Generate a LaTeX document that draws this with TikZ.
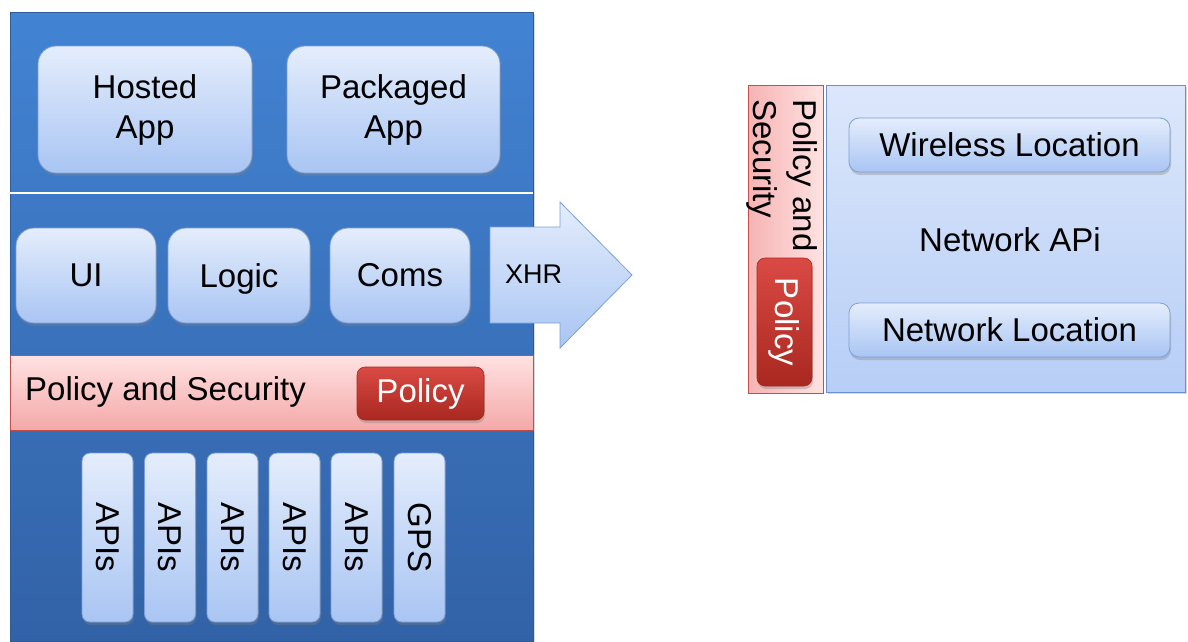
\documentclass[tikz,border=0pt]{standalone}
\usepackage{fontspec}
\setmainfont{Liberation Sans}
\usetikzlibrary{shadows}
\definecolor{panelTop}{HTML}{4283D3}
\definecolor{panelBot}{HTML}{3262A6}
\definecolor{panelLine}{HTML}{2F5B98}
\definecolor{lbtop}{HTML}{E4EDFC}
\definecolor{lbbot}{HTML}{A9C5F3}
\definecolor{boxline}{HTML}{7E9FD6}
\definecolor{pinktop}{HTML}{FFE2E2}
\definecolor{pinkbot}{HTML}{F4A8A8}
\definecolor{pinkline}{HTML}{C0504D}
\definecolor{redtop}{HTML}{DA4A44}
\definecolor{redbot}{HTML}{A8281F}
\definecolor{rpanelTop}{HTML}{DCE7FB}
\definecolor{rpanelBot}{HTML}{B7CEF6}
\definecolor{rpanelLine}{HTML}{6F8FCB}
\begin{document}
\begin{tikzpicture}[x=1pt,y=-1pt,
  txt/.style={font=\fontsize{33}{40}\selectfont, text=black},
  lbox/.style={txt, draw=boxline, line width=0.8pt, top color=lbtop, bottom color=lbbot,
     rounded corners=18pt, align=center, inner sep=0pt,
     drop shadow={opacity=0.35, shadow xshift=1pt, shadow yshift=-3pt}},
  apistrip/.style={lbox, rotate=-90, minimum width=169pt, minimum height=51pt, rounded corners=8pt},
  redbtn/.style={font=\fontsize{33}{40}\selectfont, text=white, draw=redbot, line width=0.6pt,
     top color=redtop, bottom color=redbot, rounded corners=8pt, inner sep=0pt,
     drop shadow={opacity=0.35, shadow xshift=1pt, shadow yshift=-3pt}},
  pinkbar/.style={draw=pinkline, line width=1pt, top color=pinktop, bottom color=pinkbot}
]
\useasboundingbox (0,0) rectangle (1188,641);
% main panel
\path[draw=panelLine, line width=1pt, top color=panelTop, bottom color=panelBot,
  drop shadow={opacity=0.3, shadow xshift=2pt, shadow yshift=-2pt}]
  (10,12) rectangle (533,641);
\draw[white, line width=1.5pt] (10,193) -- (533,193);
% top apps
\node[lbox, minimum width=214pt, minimum height=127pt] (hosted) at (145,109.5) {Hosted\\App};
\node[lbox, minimum width=213pt, minimum height=127pt] (packaged) at (393.5,109.5) {Packaged\\App};
% middle row
\node[lbox, minimum width=140pt, minimum height=95pt] (ui) at (86,275.5) {UI};
\node[lbox, minimum width=142pt, minimum height=95pt, text depth=0pt] (logic) at (239,275.5) {Logic};
\node[lbox, minimum width=140pt, minimum height=95pt] (coms) at (400,275.5) {Coms};
% XHR arrow
\path[draw=boxline, line width=0.8pt, top color=lbtop, bottom color=lbbot]
  (490,227) -- (560,227) -- (560,202) -- (632,275) -- (560,348) -- (560,323) -- (490,323) -- cycle;
\node[font=\fontsize{27}{32}\selectfont, inner sep=0pt] (xhr) at (533.5,274.5) {XHR};
% policy bar
\path[pinkbar] (10,355) rectangle (533,430);
\node[txt, anchor=base west, inner sep=0pt] (pstext) at (25,400) {Policy and Security};
\node[redbtn, minimum width=127pt, minimum height=53pt] (pbtn) at (420.5,393.5) {Policy};
% API strips
\node[apistrip] (api1) at (107.5,537.5) {APIs};
\node[apistrip] (api2) at (170,537.5) {APIs};
\node[apistrip] (api3) at (232.5,537.5) {APIs};
\node[apistrip] (api4) at (294.5,537.5) {APIs};
\node[apistrip] (api5) at (356.5,537.5) {APIs};
\node[apistrip] (gps) at (419.5,537.5) {GPS};
% right side
\path[draw=rpanelLine, line width=1pt, top color=rpanelTop, bottom color=rpanelBot,
  drop shadow={opacity=0.3, shadow xshift=2pt, shadow yshift=-2pt}]
  (826,85) rectangle (1185,392);
\path[draw=pinkline, line width=1pt, left color=pinkbot!80!pinktop, right color=pinktop]
  (748,85) rectangle (823,393);
\node[txt, rotate=-90, anchor=north west, align=left, inner sep=0pt] (rps) at (818,99) {Policy and\\Security};
\node[redbtn, rotate=-90, minimum width=128pt, minimum height=55pt] (rpbtn) at (784.5,322) {Policy};
\node[lbox, minimum width=321pt, minimum height=54pt, rounded corners=10pt] (wl) at (1009.5,145) {Wireless Location};
\node[txt] (napi) at (1010,240) {Network APi};
\node[lbox, minimum width=321pt, minimum height=54pt, rounded corners=10pt] (nl) at (1009.5,330) {Network Location};
\end{tikzpicture}
\end{document}
